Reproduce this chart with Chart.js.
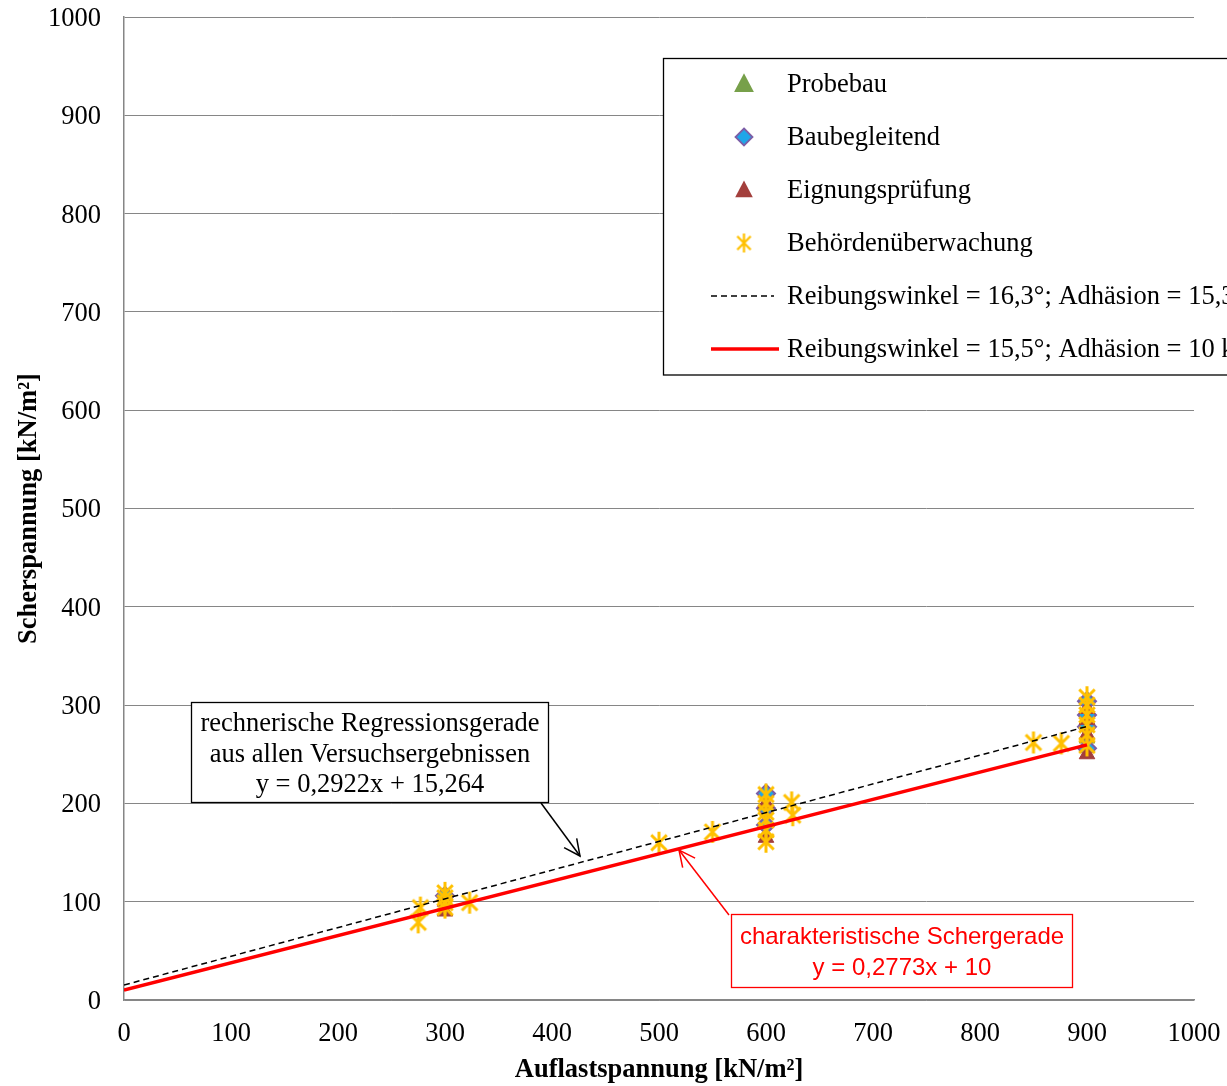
<!DOCTYPE html>
<html><head><meta charset="utf-8">
<script src="https://cdn.jsdelivr.net/npm/chart.js@4"></script>
<style>html,body{margin:0;padding:0;background:#fff;overflow:hidden}canvas{display:block}</style>
</head><body>
<canvas id="c" width="1227" height="1086"></canvas>
<script>
// ---- data ----
const probebauX = [900, 900];
const probebauY = [258, 266];
const baubegleitendX = [300, 600, 600, 600, 900, 900, 900, 900];
const baubegleitendY = [106, 210, 195, 178, 304, 290, 278, 256];
const eignungX = [300, 300, 600, 600, 900, 900, 900, 900];
const eignungY = [90, 100, 165, 200, 250, 296, 285, 270];
const behoerdeX = [275, 277, 300, 300, 300, 300, 323, 500, 550, 600, 600, 600, 600, 600, 600, 624, 625, 850, 876, 900, 900, 900, 900, 900, 900];
const behoerdeY = [79, 94, 109, 104, 99, 94, 99, 160, 171, 209, 200, 191, 183, 173, 161, 201, 188, 262, 261, 308, 300, 290, 280, 270, 259];
const regX = [0, 900];
const regY = [15.264, 278.244];   // y = 0,2922x + 15,264
const charX = [0, 900];
const charY = [10, 259.57];       // y = 0,2773x + 10
const xTicks = [0,100,200,300,400,500,600,700,800,900,1000];
const yTicks = [0,100,200,300,400,500,600,700,800,900,1000];
const seriesNames = ['Probebau','Baubegleitend','Eignungsprüfung','Behördenüberwachung',
  'Reibungswinkel = 16,3°; Adhäsion = 15,3 kN/m²','Reibungswinkel = 15,5°; Adhäsion = 10 kN/m²'];

const pts = (xs, ys) => xs.map((x, i) => ({x, y: ys[i]}));

function makeStar(size, color, lw) {
  const c = document.createElement('canvas');
  c.width = size; c.height = size;
  const g = c.getContext('2d');
  const r = size / 2 - 1, cx = size / 2, cy = size / 2;
  g.strokeStyle = color; g.lineWidth = lw; g.lineCap = 'butt';
  g.beginPath();
  g.moveTo(cx, cy - r); g.lineTo(cx, cy + r);
  const a = Math.PI / 4;
  g.moveTo(cx - r * Math.sin(a), cy - r * Math.cos(a)); g.lineTo(cx + r * Math.sin(a), cy + r * Math.cos(a));
  g.moveTo(cx + r * Math.sin(a), cy - r * Math.cos(a)); g.lineTo(cx - r * Math.sin(a), cy + r * Math.cos(a));
  g.stroke();
  return c;
}
const starImg = makeStar(24, '#FFC000', 3);
const starLegend = makeStar(21, '#FFC000', 2.3);

const SERIF = '"Liberation Serif", "Times New Roman", serif';
const FS = 26.5;

const legendPlugin = {
  id: 'customLegend',
  afterDraw(chart) {
    const ctx = chart.ctx;
    ctx.save();
    ctx.fillStyle = '#fff';
    ctx.fillRect(663, 58, 600, 317);
    ctx.strokeStyle = '#000'; ctx.lineWidth = 1.3;
    ctx.strokeRect(663.5, 58.5, 600, 316.5);
    const ys = [84, 137, 190, 243, 296, 349];
    const mx = 744;
    function tri(x, y, s, fill) {
      ctx.beginPath();
      ctx.moveTo(x, y - s * 0.6); ctx.lineTo(x + s * 0.55, y + s * 0.45); ctx.lineTo(x - s * 0.55, y + s * 0.45);
      ctx.closePath(); ctx.fillStyle = fill; ctx.fill();
    }
    tri(mx, ys[0], 18, '#77A04A');
    ctx.beginPath();
    ctx.moveTo(mx, ys[1] - 8.5); ctx.lineTo(mx + 8.5, ys[1]); ctx.lineTo(mx, ys[1] + 8.5); ctx.lineTo(mx - 8.5, ys[1]); ctx.closePath();
    ctx.fillStyle = '#1FA6E8'; ctx.fill(); ctx.strokeStyle = '#7B5EA7'; ctx.lineWidth = 1.8; ctx.stroke();
    tri(mx, ys[2], 16, '#A33F3C');
    ctx.drawImage(starLegend, mx - 10.5, ys[3] - 10.5);
    ctx.beginPath(); ctx.setLineDash([6, 4]); ctx.strokeStyle = '#000'; ctx.lineWidth = 1.5;
    ctx.moveTo(711, ys[4]); ctx.lineTo(774, ys[4]); ctx.stroke(); ctx.setLineDash([]);
    ctx.beginPath(); ctx.strokeStyle = '#FF0000'; ctx.lineWidth = 3.5;
    ctx.moveTo(711, ys[5]); ctx.lineTo(779, ys[5]); ctx.stroke();
    ctx.fillStyle = '#000'; ctx.font = FS + 'px ' + SERIF; ctx.textBaseline = 'middle'; ctx.textAlign = 'left';
    seriesNames.forEach((n, i) => ctx.fillText(n, 787, ys[i] + 1.5));
    ctx.restore();
  }
};

function arrow(ctx, x1, y1, x2, y2, color, lw) {
  ctx.strokeStyle = color; ctx.lineWidth = lw;
  ctx.beginPath(); ctx.moveTo(x1, y1); ctx.lineTo(x2, y2); ctx.stroke();
  const ang = Math.atan2(y2 - y1, x2 - x1), L = 18, sp = 0.45;
  ctx.beginPath();
  ctx.moveTo(x2 - L * Math.cos(ang - sp), y2 - L * Math.sin(ang - sp));
  ctx.lineTo(x2, y2);
  ctx.lineTo(x2 - L * Math.cos(ang + sp), y2 - L * Math.sin(ang + sp));
  ctx.stroke();
}

const annotPlugin = {
  id: 'annot',
  afterDraw(chart) {
    const ctx = chart.ctx;
    ctx.save();
    ctx.fillStyle = '#fff'; ctx.fillRect(191, 702, 358, 101);
    ctx.strokeStyle = '#000'; ctx.lineWidth = 1.3; ctx.strokeRect(191.5, 702.5, 357, 100);
    ctx.fillStyle = '#000'; ctx.font = FS + 'px ' + SERIF; ctx.textAlign = 'center'; ctx.textBaseline = 'middle';
    ctx.fillText('rechnerische Regressionsgerade', 370, 724);
    ctx.fillText('aus allen Versuchsergebnissen', 370, 755);
    ctx.fillText('y = 0,2922x + 15,264', 370, 785);
    arrow(ctx, 541, 803, 580, 856, '#000', 1.5);
    ctx.fillStyle = '#fff'; ctx.fillRect(731, 914, 342, 74);
    ctx.strokeStyle = '#FF0000'; ctx.lineWidth = 1.3; ctx.strokeRect(731.5, 914.5, 341, 73);
    ctx.fillStyle = '#FF0000'; ctx.font = '24px "Liberation Sans", Arial, sans-serif';
    ctx.fillText('charakteristische Schergerade', 902, 937);
    ctx.fillText('y = 0,2773x + 10', 902, 968);
    arrow(ctx, 729, 915, 679, 850, '#FF0000', 1.5);
    ctx.restore();
  }
};

new Chart(document.getElementById('c'), {
  type: 'scatter',
  data: {
    datasets: [
      { label: seriesNames[0], data: pts(probebauX, probebauY), pointStyle: 'triangle', radius: 9,
        backgroundColor: '#77A04A', borderColor: '#77A04A', borderWidth: 1, order: 5 },
      { label: seriesNames[1], data: pts(baubegleitendX, baubegleitendY), pointStyle: 'rectRot', radius: 9,
        backgroundColor: '#1FA6E8', borderColor: '#7B5EA7', borderWidth: 2, order: 4 },
      { label: seriesNames[2], data: pts(eignungX, eignungY), pointStyle: 'triangle', radius: 9,
        backgroundColor: '#A33F3C', borderColor: '#A33F3C', borderWidth: 1, order: 3 },
      { label: seriesNames[3], data: pts(behoerdeX, behoerdeY), pointStyle: starImg, radius: 12, order: 2 },
      { type: 'line', label: seriesNames[4], data: pts(regX, regY), borderColor: '#000', borderWidth: 1.5,
        borderDash: [6, 4], pointRadius: 0, fill: false, order: 0 },
      { type: 'line', label: seriesNames[5], data: pts(charX, charY), borderColor: '#FF0000', borderWidth: 3.5,
        pointRadius: 0, fill: false, order: 1 }
    ]
  },
  options: {
    responsive: false, animation: false, devicePixelRatio: 1,
    layout: { padding: { top: 17, right: 33, left: 0, bottom: 0 } },
    plugins: { legend: { display: false }, tooltip: { enabled: false } },
    scales: {
      x: {
        type: 'linear', min: 0, max: 1000,
        afterFit(s) { s.height = 86; s.paddingLeft = 0; s.paddingRight = 0; },
        afterBuildTicks(s) { s.ticks = xTicks.map(v => ({ value: v })); },
        grid: { display: false, drawTicks: false },
        border: { display: true, color: '#868686', width: 1.5 },
        ticks: { padding: 18, color: '#000', font: { family: SERIF, size: FS }, maxRotation: 0,
          callback: (v) => String(v) },
        title: { display: true, text: 'Auflastspannung [kN/m²]', color: '#000',
          font: { family: SERIF, size: FS, weight: 'bold' }, padding: { top: 0, bottom: 0 } }
      },
      y: {
        type: 'linear', min: 0, max: 1000,
        afterFit(s) { s.width = 124; s.paddingTop = 0; s.paddingBottom = 0; },
        afterBuildTicks(s) { s.ticks = yTicks.map(v => ({ value: v })); },
        grid: { color: '#868686', lineWidth: 1, drawTicks: false },
        border: { display: true, color: '#868686', width: 1.5 },
        ticks: { padding: 23, labelOffset: 2, color: '#000', font: { family: SERIF, size: FS }, callback: (v) => String(v) },
        title: { display: true, text: 'Scherspannung [kN/m²]', color: '#000',
          font: { family: SERIF, size: FS, weight: 'bold' }, padding: { top: 13, bottom: 0 } }
      }
    }
  },
  plugins: [legendPlugin, annotPlugin]
});
</script>
</body></html>
